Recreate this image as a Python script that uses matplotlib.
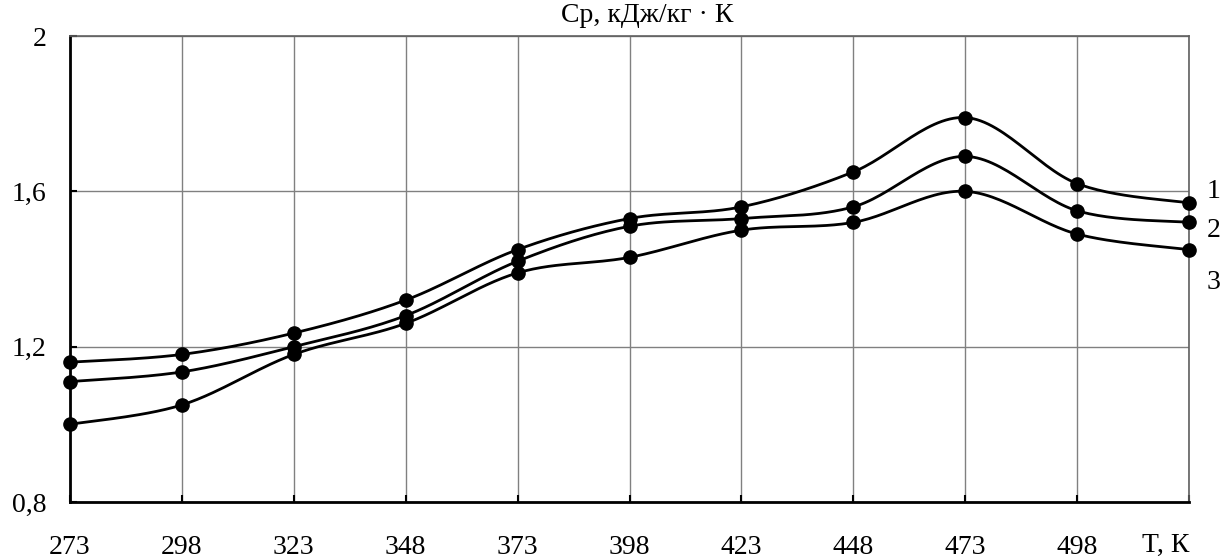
import numpy as np
import matplotlib
matplotlib.use("Agg")
import matplotlib.pyplot as plt

# ---- data ----
T = [273, 298, 323, 348, 373, 398, 423, 448, 473, 498, 523]
cp1 = [1.16, 1.18, 1.235, 1.32, 1.45, 1.53, 1.56, 1.65, 1.79, 1.62, 1.57]
cp2 = [1.11, 1.135, 1.20, 1.28, 1.42, 1.51, 1.53, 1.56, 1.69, 1.55, 1.52]
cp3 = [1.00, 1.05, 1.18, 1.26, 1.39, 1.43, 1.50, 1.52, 1.60, 1.49, 1.45]
xtick_vals = [273, 298, 323, 348, 373, 398, 423, 448, 473, 498]
ytick_vals = [0.8, 1.2, 1.6, 2.0]
ytick_labels = ["0,8", "1,2", "1,6", "2"]
curve_labels = ["1", "2", "3"]
curve_label_y = [1.60, 1.50, 1.365]

plt.rcParams['font.family'] = ['Liberation Serif', 'DejaVu Serif']


def smooth(x, y, n=30):
    """Excel-style smoothed line (cubic Bezier through the points)."""
    x = np.asarray(x, float)
    y = np.asarray(y, float)
    P = np.column_stack([x, y])
    m = len(P)
    out = []
    for i in range(m - 1):
        p0 = P[i - 1] if i > 0 else P[i]
        p1 = P[i]
        p2 = P[i + 1]
        p3 = P[i + 2] if i + 2 < m else P[i + 1]
        c1 = p1 + (p2 - p0) / 6.0
        c2 = p2 - (p3 - p1) / 6.0
        t = np.linspace(0, 1, n)[:, None]
        seg = ((1 - t) ** 3) * p1 + 3 * ((1 - t) ** 2) * t * c1 + 3 * (1 - t) * t ** 2 * c2 + t ** 3 * p2
        out.append(seg if i == 0 else seg[1:])
    s = np.vstack(out)
    return s[:, 0], s[:, 1]


W, H = 1224, 559
fig = plt.figure(figsize=(W / 100, H / 100), dpi=100)
ax = fig.add_axes([70 / W, 1 - 502 / H, (1189 - 70) / W, (502 - 36) / H])

for ys in (cp1, cp2, cp3):
    sx, sy = smooth(T, ys)
    ax.plot(sx, sy, color='black', lw=2.0, zorder=3)
    ax.plot(T, ys, 'o', color='black', ms=9.5, zorder=4, clip_on=False)

ax.set_xlim(273, 523)
ax.set_ylim(0.8, 2.0)
ax.set_xticks(xtick_vals + [523])
ax.set_xticklabels([str(v) for v in xtick_vals] + [""])
ax.set_yticks(ytick_vals)
ax.set_yticklabels(ytick_labels)
ax.grid(True, color='#808080', lw=1.0)
ax.set_axisbelow(True)

for s in ('left', 'bottom'):
    ax.spines[s].set_color('black')
    ax.spines[s].set_linewidth(2.0)
for s in ('top', 'right'):
    ax.spines[s].set_color('#606060')
    ax.spines[s].set_linewidth(1.2)

ax.tick_params(axis='x', direction='in', length=5, width=1.5, pad=24, labelsize=20)
ax.tick_params(axis='y', direction='in', length=5, width=1.5, pad=17, labelsize=20)

ax.text(647 / W, 1 - 15 / H, "Ср, кДж/кг · К", transform=fig.transFigure,
        ha='center', va='center', fontsize=20)
ax.text(1189 / W, 1 - 545 / H, "T, К", transform=fig.transFigure,
        ha='right', va='center', fontsize=20)
for lab, yv in zip(curve_labels, curve_label_y):
    ax.text(1.016, yv, lab, transform=ax.get_yaxis_transform(),
            ha='left', va='center', fontsize=20)

fig.savefig("out.png", dpi=100)
